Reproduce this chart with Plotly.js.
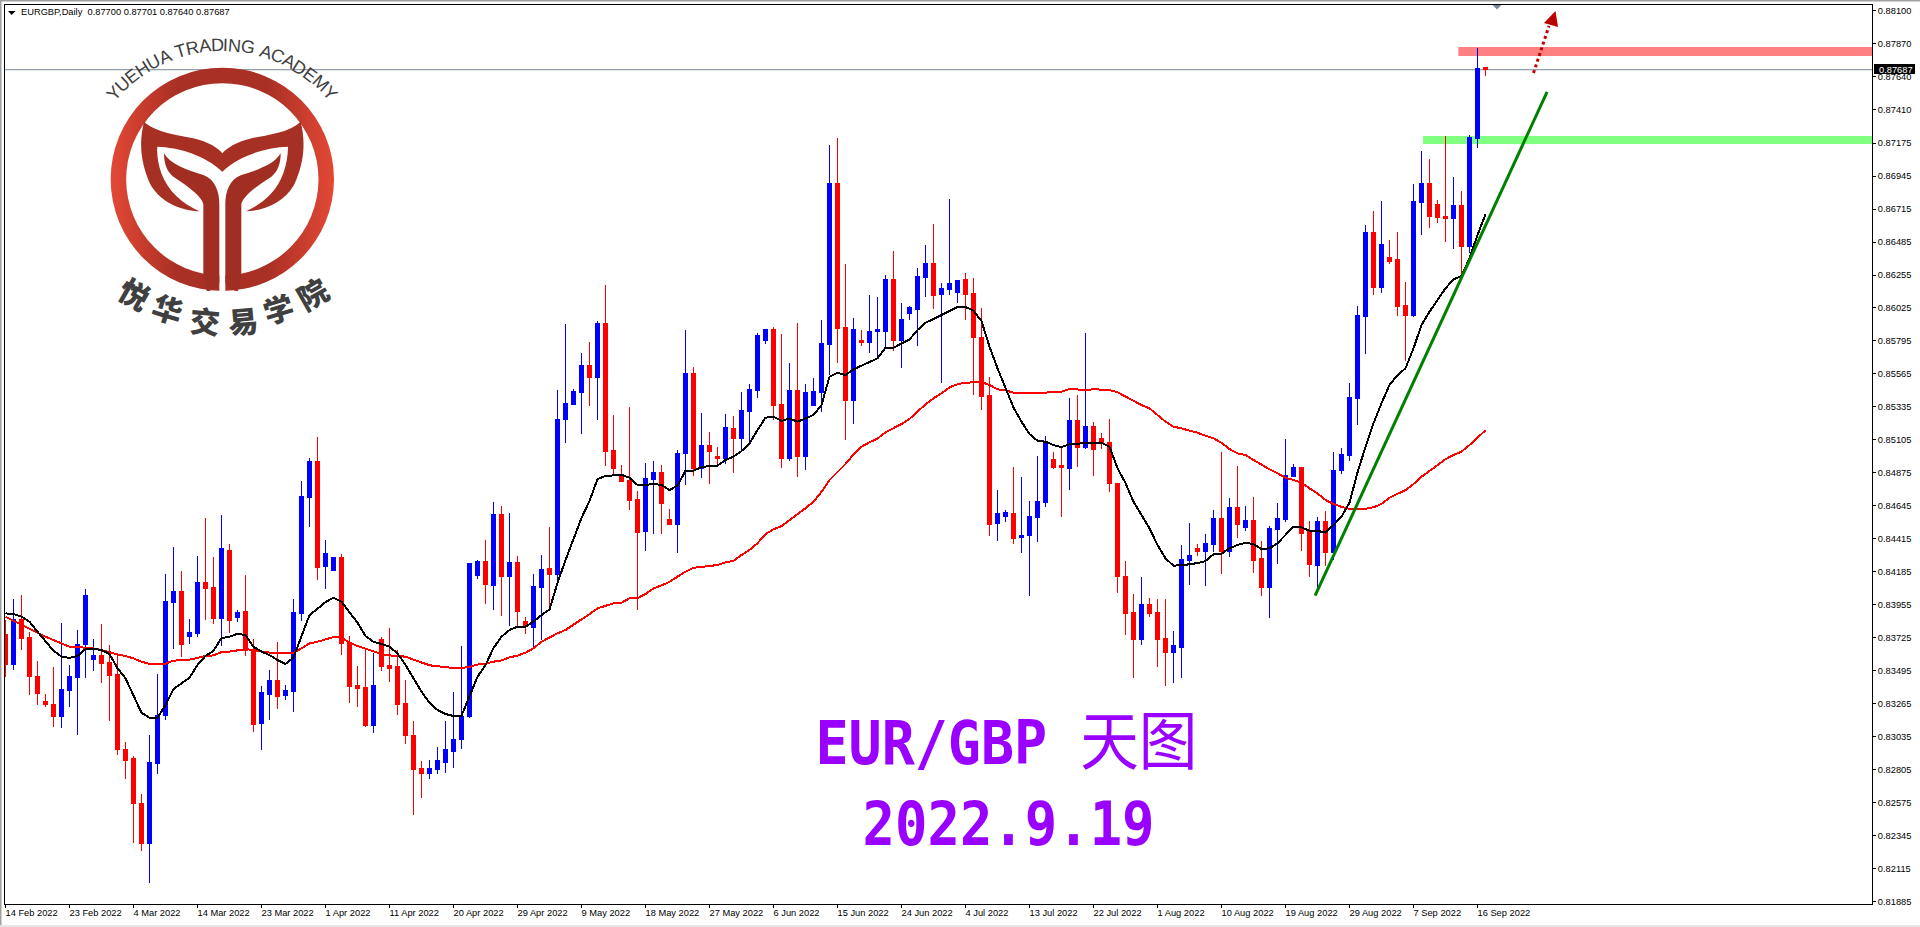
<!DOCTYPE html>
<html><head><meta charset="utf-8">
<script src="https://cdn.plot.ly/plotly-3.0.1.min.js"></script>
<style>html,body{margin:0;padding:0;background:#fff;overflow:hidden}#chart{width:1920px;height:927px}
#chart .boxes path,#chart .scatterlayer .js-line{shape-rendering:crispEdges}</style>
</head><body><div id="chart"></div>
<script>
const opens=[.83749,.83535,.83853,.83730,.83458,.83277,.83256,.83179,.83360,.83451,.83681,.83576,.83604,.83549,.83472,.82942,.82886,.82572,.82293,.82851,.83186,.83974,.84051,.83737,.83758,.84107,.84072,.83862,.84337,.83869,.83911,.83639,.83130,.83332,.83430,.83325,.83353,.83897,.84700,.84951,.84225,.84191,.84288,.83695,.83395,.83381,.83116,.83716,.83528,.83521,.83263,.83046,.82816,.82775,.82809,.82858,.82935,.83012,.83179,.84162,.84260,.84086,.84588,.84155,.84253,.83835,.83793,.84072,.84211,.84169,.85244,.85355,.85439,.85627,.85543,.85920,.85034,.84860,.84825,.84692,.84469,.84832,.84881,.84553,.84518,.85007,.85571,.84902,.85063,.84992,.84978,.85181,.85118,.85306,.85453,.85795,.85872,.85355,.84972,.85453,.84992,.85348,.85439,.85767,.86890,.85892,.85383,.85795,.85781,.85864,.85864,.86227,.85795,.85990,.86018,.86241,.86332,.86116,.86157,.86130,.86227,.86123,.85816,.85418,.84525,.84574,.84595,.84421,.84435,.84567,.84665,.84965,.84923,.84902,.85237,.85055,.85195,.85118,.85090,.84804,.84149,.83904,.83716,.83960,.83904,.83723,.83625,.83660,.84267,.84344,.84330,.84372,.84560,.84330,.84630,.84497,.84546,.84281,.84072,.84483,.84553,.84853,.84909,.84469,.84232,.84539,.84323,.84895,.84993,.85397,.85969,.86555,.86171,.86374,.86360,.86039,.85976,.86764,.86890,.86750,.86660,.86646,.86743,.86457,.87204,.87700];
const closes=[.83535,.83853,.83723,.83458,.83339,.83256,.83179,.83367,.83458,.83681,.84023,.83604,.83542,.83465,.82942,.82872,.82572,.82293,.82858,.83186,.83981,.84051,.83681,.83765,.84107,.84065,.83862,.84344,.83848,.83904,.83639,.83123,.83346,.83430,.83318,.83360,.83904,.84707,.84951,.84218,.84316,.84288,.83688,.83388,.83374,.83116,.83395,.83521,.83507,.83256,.83040,.82809,.82781,.82816,.82872,.82942,.83018,.83179,.84246,.84260,.84093,.84588,.84155,.84253,.83911,.83807,.84079,.84204,.84169,.85250,.85362,.85446,.85627,.85543,.85920,.85027,.84902,.84818,.84685,.84462,.84839,.84881,.84658,.84518,.85007,.85571,.84902,.85063,.85027,.84978,.85188,.85118,.85313,.85460,.85830,.85872,.85348,.84972,.85453,.84992,.85439,.85446,.85774,.86890,.85885,.85383,.85878,.85781,.85864,.85872,.86227,.85795,.85948,.86025,.86248,.86332,.86109,.86164,.86199,.86220,.86116,.85816,.85411,.84518,.84595,.84602,.84414,.84441,.84574,.84672,.85097,.84909,.84909,.85237,.85055,.85195,.85041,.85090,.84804,.84149,.83897,.83716,.83960,.83897,.83716,.83625,.83674,.84274,.84302,.84330,.84379,.84560,.84330,.84630,.84518,.84546,.84267,.84072,.84490,.84560,.84860,.84909,.84455,.84239,.84539,.84323,.84895,.85000,.85404,.85976,.86555,.86171,.86471,.86346,.86032,.85976,.86771,.86890,.86660,.86653,.86646,.86743,.86457,.87211,.87699,.87687];
const highs=[.83848,.83995,.84023,.83763,.83563,.83332,.83521,.83828,.83535,.83779,.84065,.83716,.83821,.83674,.83604,.82998,.82900,.82635,.83046,.83472,.84170,.84358,.84191,.83855,.84295,.84560,.84288,.84581,.84379,.83918,.84163,.83716,.83388,.83500,.83695,.83395,.83995,.84818,.84979,.85125,.84407,.84288,.84309,.83737,.83528,.83639,.83618,.83730,.83793,.83639,.83430,.83144,.82865,.82872,.82963,.83144,.83346,.83667,.84246,.84267,.84407,.84672,.84644,.84595,.84295,.83869,.84169,.84302,.84497,.85453,.85913,.85460,.85711,.85788,.85934,.86185,.85279,.84930,.85334,.84748,.84944,.84958,.84930,.84623,.85034,.85872,.85613,.85292,.85160,.85055,.85285,.85271,.85439,.85495,.85851,.85872,.85892,.85843,.85641,.85920,.85495,.85537,.85941,.87162,.87211,.86332,.85955,.85872,.86116,.86102,.86255,.86422,.86060,.86039,.86304,.86464,.86611,.86199,.86785,.86220,.86269,.86234,.86025,.85544,.84755,.84616,.84916,.84846,.84679,.84993,.85132,.85020,.85055,.85397,.85418,.85850,.85230,.85153,.85251,.84804,.84260,.84030,.84149,.84002,.83995,.83995,.83772,.84372,.84525,.84379,.84448,.84616,.85020,.84700,.84923,.84644,.84707,.84400,.84504,.84665,.85111,.84937,.84916,.84539,.84567,.84609,.85020,.85049,.85502,.86039,.86604,.86702,.86771,.86499,.86555,.86206,.86890,.87120,.87064,.86778,.87225,.86939,.86841,.87232,.87838,.87701];
const lows=[.83453,.83500,.83639,.83325,.83256,.83244,.83102,.83095,.83242,.83046,.83444,.83493,.83409,.83144,.82907,.82740,.82293,.82237,.82014,.82775,.83151,.83647,.83590,.83681,.83730,.83848,.83821,.83667,.83758,.83835,.83597,.83067,.82942,.83151,.83228,.83291,.83207,.83842,.84497,.84128,.84065,.84191,.83604,.83270,.83242,.83102,.83060,.83493,.83416,.83186,.82984,.82489,.82607,.82740,.82775,.82781,.82816,.82949,.83165,.84135,.83960,.83918,.83876,.83807,.83800,.83751,.83660,.83709,.83946,.84114,.85083,.85355,.85146,.85341,.85244,.84923,.84860,.84818,.84616,.83918,.84330,.84448,.84448,.84511,.84316,.84790,.84853,.84839,.84797,.84937,.84937,.84874,.85034,.85083,.85397,.85774,.85244,.84909,.84958,.84846,.84895,.85348,.85299,.85558,.85641,.85104,.85216,.85760,.85711,.85676,.85746,.85725,.85606,.85941,.85760,.86102,.86018,.85502,.86116,.86060,.85941,.85418,.85314,.84434,.84400,.84532,.84379,.84316,.84016,.84393,.84637,.84902,.84567,.84755,.84916,.85041,.84853,.85041,.84741,.84037,.83744,.83444,.83674,.83869,.83521,.83388,.83409,.83444,.84093,.84295,.84086,.84323,.84169,.84288,.84421,.84469,.84176,.84016,.83862,.84239,.84532,.84853,.84330,.84149,.84058,.84225,.84267,.84867,.84958,.85209,.85704,.86116,.86129,.86332,.85969,.85655,.85962,.86534,.86583,.86618,.86485,.86436,.86248,.86408,.87141,.87640];
const fastMA=[.83895,.83890,.83872,.83837,.83767,.83704,.83634,.83593,.83584,.83598,.83646,.83648,.83639,.83611,.83512,.83442,.83325,.83202,.83167,.83167,.83256,.83367,.83407,.83446,.83535,.83598,.83634,.83723,.83732,.83753,.83744,.83662,.83628,.83604,.83570,.83542,.83588,.83732,.83883,.83927,.83974,.84004,.83976,.83902,.83830,.83737,.83697,.83681,.83662,.83616,.83535,.83442,.83348,.83272,.83221,.83193,.83179,.83181,.83318,.83453,.83535,.83653,.83732,.83779,.83802,.83802,.83837,.83883,.83922,.84107,.84267,.84414,.84560,.84679,.84832,.84853,.84858,.84862,.84841,.84790,.84790,.84799,.84790,.84755,.84785,.84890,.84890,.84914,.84923,.84925,.84965,.84988,.85027,.85081,.85174,.85260,.85267,.85237,.85255,.85232,.85255,.85279,.85348,.85546,.85573,.85557,.85597,.85620,.85648,.85674,.85748,.85748,.85778,.85806,.85871,.85922,.85948,.85976,.86006,.86032,.86032,.86006,.85934,.85755,.85604,.85474,.85331,.85232,.85146,.85099,.85092,.85069,.85055,.85074,.85081,.85083,.85085,.85085,.85057,.84907,.84804,.84674,.84581,.84488,.84372,.84279,.84227,.84230,.84237,.84246,.84260,.84307,.84311,.84349,.84372,.84388,.84377,.84344,.84349,.84384,.84442,.84500,.84495,.84471,.84471,.84458,.84511,.84569,.84668,.84877,.85057,.85221,.85360,.85488,.85557,.85604,.85744,.85906,.85999,.86081,.86162,.86225,.86248,.86372,.86534,.86679];
const slowMA=[.83872,.83844,.83814,.83784,.83756,.83732,.83709,.83686,.83662,.83660,.83658,.83651,.83639,.83623,.83609,.83598,.83581,.83558,.83542,.83542,.83544,.83565,.83570,.83572,.83584,.83598,.83602,.83625,.83628,.83639,.83646,.83639,.83628,.83621,.83618,.83618,.83621,.83651,.83686,.83697,.83714,.83730,.83728,.83690,.83667,.83648,.83628,.83611,.83602,.83598,.83593,.83572,.83551,.83533,.83526,.83519,.83514,.83514,.83521,.83538,.83544,.83558,.83567,.83588,.83600,.83621,.83651,.83697,.83728,.83756,.83779,.83814,.83853,.83890,.83930,.83946,.83965,.83969,.84000,.84001,.84030,.84068,.84089,.84114,.84151,.84186,.84213,.84220,.84223,.84232,.84251,.84262,.84302,.84337,.84384,.84448,.84481,.84504,.84546,.84586,.84628,.84674,.84743,.84825,.84883,.84937,.85004,.85057,.85088,.85114,.85158,.85186,.85216,.85251,.85302,.85353,.85395,.85430,.85472,.85493,.85504,.85507,.85509,.85488,.85458,.85451,.85434,.85432,.85432,.85432,.85434,.85441,.85441,.85460,.85458,.85453,.85458,.85458,.85453,.85437,.85406,.85376,.85348,.85325,.85279,.85232,.85197,.85186,.85169,.85155,.85134,.85116,.85085,.85041,.85011,.85000,.84965,.84930,.84900,.84872,.84841,.84825,.84806,.84767,.84732,.84686,.84658,.84638,.84624,.84623,.84625,.84635,.84658,.84702,.84730,.84755,.84797,.84848,.84888,.84930,.84970,.85000,.85023,.85069,.85123,.85172];
const priceTicks=[.88100,.87870,.87640,.87410,.87175,.86945,.86715,.86485,.86255,.86025,.85795,.85565,.85335,.85105,.84875,.84645,.84415,.84185,.83955,.83725,.83495,.83265,.83035,.82805,.82575,.82345,.82115,.81885];
const dateTicks=["14 Feb 2022","23 Feb 2022","4 Mar 2022","14 Mar 2022","23 Mar 2022","1 Apr 2022","11 Apr 2022","20 Apr 2022","29 Apr 2022","9 May 2022","18 May 2022","27 May 2022","6 Jun 2022","15 Jun 2022","24 Jun 2022","4 Jul 2022","13 Jul 2022","22 Jul 2022","1 Aug 2022","10 Aug 2022","19 Aug 2022","29 Aug 2022","7 Sep 2022","16 Sep 2022"];
const lastPrice=.87687;
const resistanceZone=[.87783,.87845], supportZone=[.87169,.87225];
const trendLine=[[163.7,.84018],[192.7,.87533]];

const bars=opens.map((_,i)=>i);
const dateTickVals=dateTicks.map((_,i)=>i*8);

// page-pixel helpers, used only for decoration (frame, logo, captions)
const L=5,R=1872,T=5,B=904;
const px=x=>(x-L)/(R-L), py=y=>(B-y)/(B-T);
const UI="'Liberation Sans',sans-serif", UIS=9.3;
const PURPLE='#9900ff';

const logoSvg=`<svg xmlns="http://www.w3.org/2000/svg" width="400" height="340" viewBox="0 0 1200 1020">
<defs><linearGradient id="g" gradientUnits="userSpaceOnUse" x1="330" y1="0" x2="1004" y2="0">
<stop offset="0" stop-color="#e44836"/><stop offset=".3" stop-color="#a83024"/><stop offset=".7" stop-color="#a83024"/><stop offset="1" stop-color="#e44836"/></linearGradient>
<g id="half"><path d="M492 460C510 492 560 510 610 525C645 538 658 575 658 612V848C650 864 635 873 620 873L610 822V612C605 590 570 562 520 530C500 515 492 490 492 460Z" fill="#a02e22"/></g></defs>
<path fill-rule="evenodd" fill="url(#g)" d="M667 203A335 335 0 0 0 667 873A335 335 0 0 0 667 203ZM667 249.5A288.5 288.5 0 0 1 667 826.5A288.5 288.5 0 0 1 667 249.5Z"/>
<rect x="658" y="600" width="18" height="290" fill="#fff"/>
<path d="M432 365C470 400 540 405 580 415C625 425 655 445 667 460C680 445 710 425 755 415C795 405 865 400 902 365C918 430 912 490 882 555C850 610 790 632 738 634C790 610 830 575 850 520C860 490 864 465 864 440C800 442 720 465 667 515C615 465 535 442 472 440C470 465 474 490 484 520C505 575 545 610 598 634C545 632 485 610 452 555C422 490 416 430 432 365Z" fill="#a63024"/>
<use href="#half"/><use href="#half" transform="translate(1334 0) scale(-1 1)"/>
</svg>`;

const shapes=[
 {type:'rect',xref:'paper',yref:'paper',x0:px(0),x1:px(1920),y0:py(927),y1:py(925),fillcolor:'#e6e6e6',line:{width:0}},
 {type:'rect',xref:'paper',yref:'paper',x0:px(0),x1:px(1920),y0:py(1.5),y1:py(0),fillcolor:'#a0a0a0',line:{width:0}},
 {type:'rect',xref:'paper',yref:'paper',x0:px(0),x1:px(1.5),y0:py(925),y1:py(0),fillcolor:'#a0a0a0',line:{width:0}},
 {type:'rect',layer:'below',xref:'x',yref:'y',x0:181.6,x1:234,y0:resistanceZone[0],y1:resistanceZone[1],fillcolor:'#ff8080',line:{width:0}},
 {type:'rect',layer:'below',xref:'x',yref:'y',x0:177.2,x1:234,y0:supportZone[0],y1:supportZone[1],fillcolor:'#80ff80',line:{width:0}},
 {type:'line',layer:'below',xref:'paper',yref:'y',x0:0,x1:1,y0:lastPrice,y1:lastPrice,line:{color:'#778899',width:1}},
 {type:'line',xref:'x',yref:'y',x0:trendLine[0][0],y0:trendLine[0][1],x1:trendLine[1][0],y1:trendLine[1][1],line:{color:'#008000',width:3}},
 {type:'line',xref:'paper',yref:'paper',x0:px(1533.5),y0:py(73),x1:px(1549),y1:py(26),line:{color:'#c00000',width:3,dash:'dot'}},
 {type:'path',xref:'paper',yref:'paper',path:`M${px(1555.5)} ${py(11)}L${px(1544)} ${py(23)}L${px(1558)} ${py(27)}Z`,fillcolor:'#bb0000',line:{width:0}},
 {type:'path',xref:'paper',yref:'paper',path:`M${px(1492.5)} ${py(5)}L${px(1501.5)} ${py(5)}L${px(1497)} ${py(9.5)}Z`,fillcolor:'#778899',line:{width:0}},
 {type:'path',xref:'paper',yref:'paper',path:`M${px(8)} ${py(11)}L${px(15.5)} ${py(11)}L${px(11.7)} ${py(15)}Z`,fillcolor:'#000',line:{width:0}},
 {type:'rect',xref:'paper',yref:'paper',x0:px(1874),x1:px(1915),y0:py(74),y1:py(64),fillcolor:'#000',line:{width:0}}
];

const annotations=[
 {xref:'paper',yref:'paper',x:px(19),y:py(12.5),xanchor:'left',yanchor:'middle',showarrow:false,
  text:'EURGBP,Daily  0.87700 0.87701 0.87640 0.87687',font:{family:UI,size:UIS,color:'#000'}},
 {xref:'paper',yref:'y',x:px(1877),y:lastPrice,xanchor:'left',yanchor:'middle',showarrow:false,
  text:'0.87687',font:{family:UI,size:UIS,color:'#fff'}},
 {name:'cap1',xref:'paper',yref:'paper',x:px(1006),y:py(742),xanchor:'center',yanchor:'middle',showarrow:false,
  text:'EUR/GBP <span style="font-size:64px;font-weight:normal">天图</span>',
  font:{family:"'DejaVu Sans Mono','Noto Sans CJK SC',monospace",size:60,color:PURPLE,weight:700}},
 {name:'cap2',xref:'paper',yref:'paper',x:px(1009),y:py(824),xanchor:'center',yanchor:'middle',showarrow:false,
  text:'2022.9.19',font:{family:"'DejaVu Sans Mono',monospace",size:60,color:PURPLE,weight:700}}
];

// logo lettering set on arcs, one real text glyph per annotation
const arcText='YUEHUA TRADING ACADEMY', arcCx=222, arcCy=190, arcR=145;
const ctx=document.createElement('canvas').getContext('2d');
ctx.font="18px 'Liberation Sans'";
const total=ctx.measureText(arcText).width;
let run=0;
for(const ch of arcText){
  const w=ctx.measureText(ch).width;
  const a=(run+w/2-total/2)/arcR;
  run+=w;
  if(ch===' ')continue;
  annotations.push({xref:'paper',yref:'paper',x:px(arcCx+arcR*Math.sin(a)),y:py(arcCy-arcR*Math.cos(a)),
    xanchor:'center',yanchor:'middle',showarrow:false,textangle:a*180/Math.PI,text:ch,
    font:{family:'Liberation Sans',size:18,color:'#404040'}});
}
const cjkLogo=[['悦',135,293,30],['华',168,308,17],['交',205,320,5],['易',243,320,-5],['学',278,308,-17],['院',312,293,-30]];
for(const [t,x,y,a] of cjkLogo){
  annotations.push({xref:'paper',yref:'paper',x:px(x),y:py(y),xanchor:'center',yanchor:'middle',showarrow:false,
    textangle:a,text:t,font:{family:'Noto Sans CJK SC',size:30,color:'#404040',weight:900}});
}

const data=[
 {type:'candlestick',x:bars,open:opens,high:highs,low:lows,close:closes,whiskerwidth:0,
  increasing:{line:{color:'#0000ff',width:1},fillcolor:'#0000ff'},
  decreasing:{line:{color:'#ff0000',width:1},fillcolor:'#ff0000'},showlegend:false},
 {type:'scatter',mode:'lines',x:bars,y:slowMA,line:{color:'#ff0000',width:2},showlegend:false},
 {type:'scatter',mode:'lines',x:bars,y:fastMA,line:{color:'#000000',width:2},showlegend:false}
];

const layout={
 width:1920,height:927,showlegend:false,paper_bgcolor:'#fff',plot_bgcolor:'#fff',boxgap:.2857,
 margin:{l:L,r:1920-R,t:T,b:927-B,pad:0,autoexpand:false},
 font:{family:UI,size:UIS,color:'#000'},
 xaxis:{type:'linear',range:[-0.0625,233.3125],rangeslider:{visible:false},showgrid:false,zeroline:false,
  showline:true,mirror:true,linecolor:'#000',linewidth:1,ticks:'outside',ticklen:3,tickcolor:'#000',tickwidth:1,
  tickmode:'array',tickvals:dateTickVals,ticktext:dateTicks,tickangle:0,ticklabelposition:'outside right',ticklabelshift:-1,
  tickfont:{family:UI,size:UIS,color:'#000'}},
 yaxis:{side:'right',range:[.818678,.881384],showgrid:false,zeroline:false,showline:true,mirror:true,linecolor:'#000',linewidth:1,
  ticks:'outside',ticklen:3,tickcolor:'#000',tickwidth:1,tickmode:'array',tickvals:priceTicks,
  ticktext:priceTicks.map(v=>v.toFixed(5)),tickfont:{family:UI,size:UIS,color:'#000'}},
 images:[{source:'data:image/svg+xml;charset=utf-8,'+encodeURIComponent(logoSvg),xref:'paper',yref:'paper',
  x:px(0),y:py(0),sizex:400/(R-L),sizey:340/(B-T),xanchor:'left',yanchor:'top',sizing:'stretch',layer:'above'}],
 shapes,annotations
};

Plotly.newPlot('chart',data,layout,{displayModeBar:false,staticPlot:true}).then(()=>{
  const fit=(needle,len)=>{
    document.querySelectorAll('#chart text.annotation-text').forEach(t=>{
      if(t.textContent.indexOf(needle)===0){t.setAttribute('textLength',len);t.setAttribute('lengthAdjust','spacingAndGlyphs');}
    });
  };
  fit('EUR/GBP',382);fit('2022.9.19',292);
});
</script></body></html>
